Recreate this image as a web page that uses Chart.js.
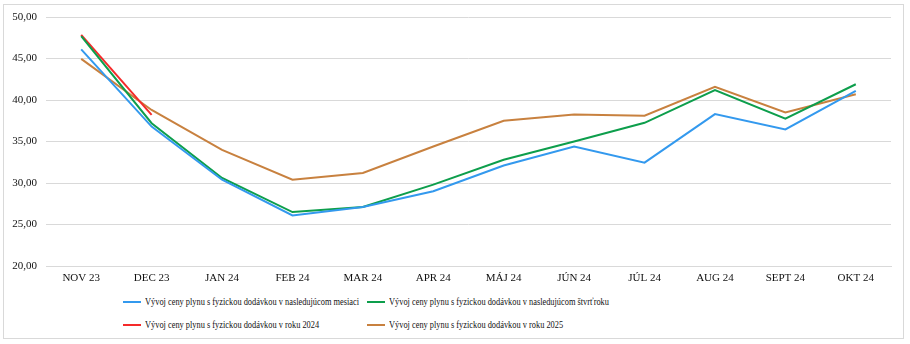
<!DOCTYPE html>
<html>
<head>
<meta charset="utf-8">
<script src="https://cdn.jsdelivr.net/npm/chart.js@4"></script>
<style>
  html, body { margin: 0; padding: 0; background: #fff; }
  #wrap { position: relative; width: 910px; height: 344px; overflow: hidden; }
  #frame { position: absolute; left: 3px; top: 4px; border: 1px solid #d9d9d9; box-sizing: border-box; width: 901px; height: 335px; }
  #cbox { position: absolute; left: 0; top: 0; width: 910px; height: 290px; }
  #legend { position: absolute; left: 123px; top: 290px; display: grid; grid-template-columns: 244px auto; grid-auto-rows: 23px; font-family: "Liberation Serif", "Times New Roman", serif; font-size: 9.5px; color: #111; }
  .li { display: flex; align-items: center; white-space: nowrap; }
  .sw { width: 18px; height: 2px; margin-right: 4px; flex: none; }
  .tx { display: inline-block; transform: scaleX(0.88); transform-origin: left center; }
</style>
</head>
<body>
<div id="wrap">
  <div id="frame"></div>
  <div id="cbox"><canvas id="c"></canvas></div>
  <div id="legend"></div>
</div>
<script>
const categories = ["NOV 23", "DEC 23", "JAN 24", "FEB 24", "MAR 24", "APR 24", "MÁJ 24", "JÚN 24", "JÚL 24", "AUG 24", "SEPT 24", "OKT 24"];
const seriesNames = [
  "Vývoj ceny plynu s fyzickou dodávkou v nasledujúcom mesiaci",
  "Vývoj ceny plynu s fyzickou dodávkou v nasledujúcom štvrťroku",
  "Vývoj ceny plynu s fyzickou dodávkou v roku 2024",
  "Vývoj ceny plynu s fyzickou dodávkou v roku 2025"
];
const nextMonth   = [46.1, 36.8, 30.4, 26.1, 27.1, 29.0, 32.1, 34.4, 32.45, 38.3, 36.45, 41.1];
const nextQuarter = [47.7, 37.2, 30.6, 26.5, 27.1, 29.8, 32.8, 35.0, 37.25, 41.2, 37.75, 41.9];
const year2024    = [47.85, 38.2, null, null, null, null, null, null, null, null, null, null];
const year2025    = [44.95, 38.8, 34.0, 30.4, 31.2, 34.4, 37.5, 38.25, 38.1, 41.6, 38.5, 40.7];
const yTicks = [20, 25, 30, 35, 40, 45, 50];
const colors = ["#3399ee", "#0d9e4c", "#f52a2a", "#c8813f"];

const font = { family: "'Liberation Serif', 'Times New Roman', serif", size: 11 };
const values = [nextMonth, nextQuarter, year2024, year2025];

new Chart(document.getElementById('c'), {
  type: 'line',
  data: {
    labels: categories,
    datasets: values.map((v, i) => ({
      label: seriesNames[i], data: v, borderColor: colors[i], backgroundColor: colors[i],
      borderWidth: 2, pointRadius: 0, tension: 0, spanGaps: false
    }))
  },
  options: {
    responsive: true, maintainAspectRatio: false, animation: false,
    layout: { padding: { left: 0, right: 19, top: 17, bottom: 0 } },
    plugins: { legend: { display: false }, tooltip: { enabled: false } },
    scales: {
      x: {
        offset: true,
        grid: { display: false, drawTicks: false, offset: true },
        border: { color: '#d9d9d9', width: 1 },
        ticks: { font, color: '#111', padding: 6, maxRotation: 0, autoSkip: false },
        afterFit: s => { s.height = 24; }
      },
      y: {
        min: 20, max: 50,
        afterBuildTicks: s => { s.ticks = yTicks.map(v => ({ value: v })); },
        grid: { color: '#d9d9d9', drawTicks: false },
        border: { display: false },
        ticks: { font, color: '#111', padding: 9, callback: v => v.toFixed(2).replace('.', ',') },
        afterFit: s => { s.width = 46; }
      }
    }
  }
});

const leg = document.getElementById('legend');
seriesNames.forEach((n, i) => {
  const d = document.createElement('div'); d.className = 'li';
  const sw = document.createElement('span'); sw.className = 'sw'; sw.style.background = colors[i];
  const tx = document.createElement('span'); tx.className = 'tx'; tx.textContent = n;
  d.appendChild(sw); d.appendChild(tx); leg.appendChild(d);
});
</script>
</body>
</html>
